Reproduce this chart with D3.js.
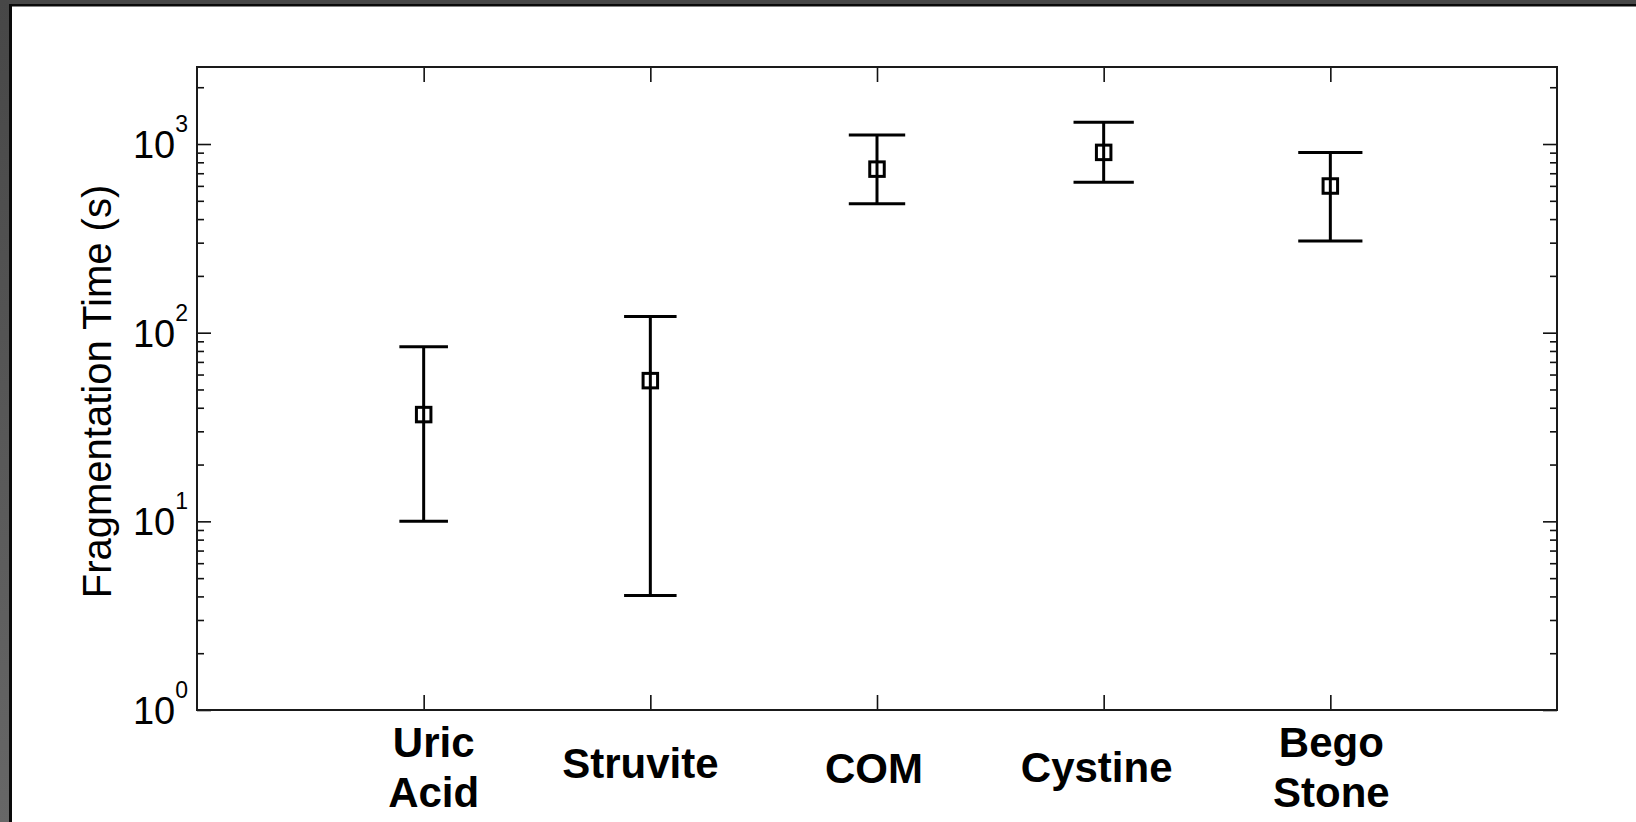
<!DOCTYPE html>
<html>
<head>
<meta charset="utf-8">
<script src="https://cdn.jsdelivr.net/npm/d3@7"></script>
<style>
  html, body { margin: 0; padding: 0; background: #ffffff; }
  svg { display: block; }
  text { font-family: "Liberation Sans", Arial, Helvetica, sans-serif; fill: #000; }
</style>
</head>
<body>
<svg id="chart" width="1636" height="822"></svg>
<script>
// ---------------- data ----------------
const categories = ["Uric\nAcid", "Struvite", "COM", "Cystine", "Bego\nStone"];
const meanTime   = [36.8, 55.7, 736, 903, 599];     // fragmentation time (s), square markers
const lowerTime  = [10.0, 4.04, 482, 627, 306];     // lower end of error bar
const upperTime  = [84.3, 121.7, 1117, 1306, 903];  // upper end of error bar
const yTickValues = [1, 10, 100, 1000];
const yTickExponents = ["0", "1", "2", "3"];
const yLabel = "Fragmentation Time (s)";

// ---------------- layout / style ----------------
const W = 1636, H = 822;
const plot = { left: 197, right: 1557, top: 67, bottom: 710 };
const labelNudge = [[10, 0], [-10, -4], [-3, 1], [-7, 0], [1, 0]];

const svg = d3.select("#chart");

// window frame (dark border top and left)
const defs = svg.append("defs");
const grad = defs.append("linearGradient").attr("id", "leftBand")
  .attr("x1", 0).attr("y1", 0).attr("x2", 0).attr("y2", 1);
grad.append("stop").attr("offset", "0%").attr("stop-color", "#474747");
grad.append("stop").attr("offset", "100%").attr("stop-color", "#676767");

svg.append("rect").attr("x", 0).attr("y", 0).attr("width", W).attr("height", H).attr("fill", "#fff");
svg.append("rect").attr("x", 0).attr("y", 0).attr("width", W).attr("height", 4).attr("fill", "#484848");
svg.append("rect").attr("x", 0).attr("y", 0).attr("width", 9).attr("height", H).attr("fill", "url(#leftBand)");
svg.append("rect").attr("x", 9).attr("y", 4).attr("width", W - 9).attr("height", 2.5).attr("fill", "#0a0a0a");
svg.append("rect").attr("x", 9).attr("y", 4).attr("width", 3).attr("height", H - 4).attr("fill", "#0a0a0a");

// ---------------- scales ----------------
const x = d3.scaleLinear().domain([0, categories.length + 1]).range([plot.left, plot.right]);
const y = d3.scaleLog().domain([1, 2560]).range([plot.bottom, plot.top]);

const allLogTicks = y.ticks().filter(v => v >= 1 && v <= 2560);
const majorTicks = allLogTicks.filter(v => yTickValues.includes(v));
const minorTicks = allLogTicks.filter(v => !yTickValues.includes(v));
const xTickVals = categories.map((c, i) => i + 1);

function clean(g) {
  g.select(".domain").remove();
  g.selectAll(".tick line").attr("stroke", "#111").attr("stroke-width", 1.6);
  g.selectAll(".tick text").remove();
}

// left & right y ticks (inward)
svg.append("g").attr("transform", `translate(${plot.left},0)`)
  .call(d3.axisLeft(y).tickValues(majorTicks).tickSize(-14)).call(clean);
svg.append("g").attr("transform", `translate(${plot.left},0)`)
  .call(d3.axisLeft(y).tickValues(minorTicks).tickSize(-7)).call(clean);
svg.append("g").attr("transform", `translate(${plot.right},0)`)
  .call(d3.axisRight(y).tickValues(majorTicks).tickSize(-14)).call(clean);
svg.append("g").attr("transform", `translate(${plot.right},0)`)
  .call(d3.axisRight(y).tickValues(minorTicks).tickSize(-7)).call(clean);

// bottom & top x ticks (inward)
svg.append("g").attr("transform", `translate(0,${plot.bottom})`)
  .call(d3.axisBottom(x).tickValues(xTickVals).tickSize(-15)).call(clean);
svg.append("g").attr("transform", `translate(0,${plot.top})`)
  .call(d3.axisTop(x).tickValues(xTickVals).tickSize(-15)).call(clean);

// axes box
svg.append("rect")
  .attr("x", plot.left).attr("y", plot.top)
  .attr("width", plot.right - plot.left).attr("height", plot.bottom - plot.top)
  .attr("fill", "none").attr("stroke", "#1a1a1a").attr("stroke-width", 2);

// y tick labels 10^n
const yl = svg.append("g").selectAll("text").data(yTickValues).join("text")
  .attr("x", 188).attr("y", d => y(d) + 14)
  .attr("text-anchor", "end");
yl.append("tspan").attr("font-size", 38).text("10");
yl.append("tspan").attr("font-size", 23).attr("dy", -26).text((d, i) => yTickExponents[i]);

// y axis label
svg.append("text")
  .attr("transform", `translate(111,${(plot.top + plot.bottom) / 2 + 3}) rotate(-90)`)
  .attr("text-anchor", "middle")
  .attr("font-size", 40)
  .text(yLabel);

// x category labels
const xl = svg.append("g").selectAll("text").data(categories).join("text")
  .attr("text-anchor", "middle")
  .attr("font-size", 42)
  .attr("font-weight", "bold")
  .attr("transform", (d, i) => `translate(${x(i + 1) + labelNudge[i][0]},${782 + labelNudge[i][1]})`);
xl.each(function(d) {
  const lines = d.split("\n");
  const t = d3.select(this);
  lines.forEach((ln, j) => {
    t.append("tspan").attr("x", 0)
      .attr("y", (j - (lines.length - 1) / 2) * 50)
      .text(ln);
  });
});

// error bars
const eb = svg.append("g").attr("stroke", "#000").attr("stroke-width", 3).attr("fill", "none");
categories.forEach((c, i) => {
  const cx = x(i + 1);
  const capHalf = (48.6 + 3.9 * i) / 2;
  eb.append("line").attr("x1", cx).attr("x2", cx).attr("y1", y(lowerTime[i])).attr("y2", y(upperTime[i]));
  eb.append("line").attr("x1", cx - capHalf).attr("x2", cx + capHalf).attr("y1", y(upperTime[i])).attr("y2", y(upperTime[i]));
  eb.append("line").attr("x1", cx - capHalf).attr("x2", cx + capHalf).attr("y1", y(lowerTime[i])).attr("y2", y(lowerTime[i]));
});

// square markers
const ms = 14.5;
svg.append("g").selectAll("rect").data(meanTime).join("rect")
  .attr("x", (d, i) => x(i + 1) - ms / 2)
  .attr("y", d => y(d) - ms / 2)
  .attr("width", ms).attr("height", ms)
  .attr("fill", "none").attr("stroke", "#000").attr("stroke-width", 3);
</script>
</body>
</html>
